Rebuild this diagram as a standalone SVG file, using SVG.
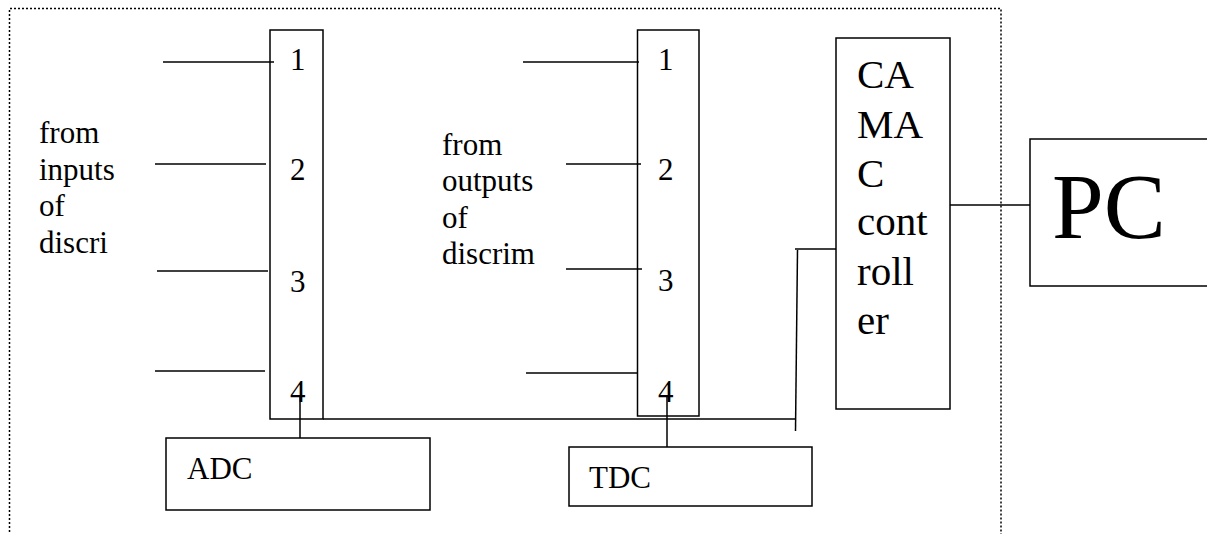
<svg xmlns="http://www.w3.org/2000/svg" width="1207" height="534" viewBox="0 0 1207 534">
<style>
.b{fill:#fff;stroke:#000;stroke-width:1.5}
.l{fill:none;stroke:#000;stroke-width:1.5}
.d{fill:none;stroke:#000;stroke-width:1.5;stroke-dasharray:2 2}
text{fill:#000}
.t{font-size:31px}
.c{font-size:41px}
.p{font-size:93px}
</style>
<rect width="1207" height="534" fill="#fff"/>
<g id="frame">
<polyline class="d" points="9.5,540 9.5,8.5 1001,8.5 1001,540"/>
</g>
<g id="connectors">
<line class="l" x1="163" y1="62" x2="274" y2="62"/>
<line class="l" x1="155" y1="164" x2="266" y2="164"/>
<line class="l" x1="157" y1="271" x2="268" y2="271"/>
<line class="l" x1="155" y1="371" x2="265" y2="371"/>
<line class="l" x1="523" y1="62" x2="639" y2="62"/>
<line class="l" x1="566" y1="164" x2="641" y2="164"/>
<line class="l" x1="566" y1="269" x2="642" y2="269"/>
<line class="l" x1="526" y1="373" x2="637" y2="373"/>
<line class="l" x1="323" y1="419" x2="796" y2="419"/>
<line class="l" x1="797.5" y1="250" x2="795.5" y2="431"/>
<line class="l" x1="795" y1="249" x2="838" y2="249"/>
<line class="l" x1="300" y1="395" x2="300" y2="438"/>
<line class="l" x1="667" y1="395" x2="667" y2="447"/>
<line class="l" x1="950" y1="205" x2="1030" y2="205"/>
</g>
<g font-family="'Liberation Serif', 'DejaVu Serif', serif">
<g id="labels">
<text class="t" x="39" y="143">from</text>
<text class="t" x="39" y="180">inputs</text>
<text class="t" x="39" y="216">of</text>
<text class="t" x="39" y="253">discri</text>
<text class="t" x="442" y="155">from</text>
<text class="t" x="442" y="191">outputs</text>
<text class="t" x="442" y="228">of</text>
<text class="t" x="442" y="264">discrim</text>
</g>
<g id="module1">
<rect class="b" x="270" y="30" width="53" height="389" style="fill:none"/>
<text class="t" x="290" y="70">1</text>
<text class="t" x="290" y="180">2</text>
<text class="t" x="290" y="292">3</text>
<text class="t" x="290" y="402">4</text>
</g>
<g id="module2">
<rect class="b" x="637.5" y="30" width="61.5" height="386" style="fill:none"/>
<text class="t" x="658" y="70">1</text>
<text class="t" x="658" y="180">2</text>
<text class="t" x="658" y="291">3</text>
<text class="t" x="658" y="402">4</text>
</g>
<g id="adc">
<rect class="b" x="166" y="438" width="264" height="72"/>
<text class="t" x="187" y="479">ADC</text>
</g>
<g id="tdc">
<rect class="b" x="569" y="447" width="243" height="59"/>
<text class="t" x="589" y="488">TDC</text>
</g>
<g id="camac">
<rect class="b" x="836" y="38" width="114" height="371"/>
<text class="c" x="857" y="88">CA</text>
<text class="c" x="857" y="138">MA</text>
<text class="c" x="857" y="187">C</text>
<text class="c" x="857" y="235">cont</text>
<text class="c" x="857" y="285">roll</text>
<text class="c" x="857" y="334">er</text>
</g>
<g id="pc">
<rect class="b" x="1030" y="139" width="190" height="147"/>
<text class="p" x="1052" y="238">PC</text>
</g>
</g>
</svg>
